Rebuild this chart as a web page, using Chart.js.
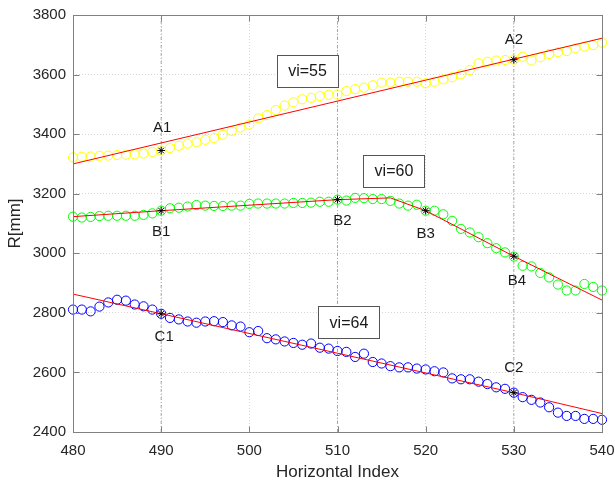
<!DOCTYPE html>
<html>
<head>
<meta charset="utf-8">
<script src="https://cdn.jsdelivr.net/npm/chart.js@4.4.0/dist/chart.umd.min.js"></script>
<style>
  html, body { margin: 0; background: #fff; }
  #wrap { width: 615px; height: 483px; }
</style>
</head>
<body>
<div id="wrap"><canvas id="grafico" width="615" height="483"></canvas></div>
<script>
// ---------- dados ----------
const indices = [];
for (let i = 480; i <= 540; i++) indices.push(i);

// vi=55
const serieA = [3322, 3324, 3325, 3327, 3328, 3330, 3331, 3332, 3335, 3340,
  3345, 3353, 3361, 3368, 3373, 3381, 3387, 3398, 3411, 3422,
  3432, 3453, 3464, 3481, 3496, 3507, 3517, 3522, 3528, 3532,
  3533, 3545, 3551, 3556, 3564, 3573, 3573, 3576, 3576, 3576,
  3571, 3576, 3584, 3591, 3601, 3615, 3638, 3643, 3647, 3649,
  3650, 3660, 3647, 3658, 3669, 3675, 3679, 3688, 3694, 3699, 3707];

// vi=60
const serieB = [3123, 3120, 3122, 3125, 3126, 3126, 3126, 3126, 3129, 3134,
  3143, 3151, 3153, 3157, 3162, 3160, 3159, 3159, 3160, 3160,
  3166, 3167, 3167, 3167, 3167, 3169, 3169, 3170, 3173, 3173,
  3180, 3177, 3186, 3185, 3182, 3182, 3176, 3167, 3160, 3163,
  3143, 3143, 3131, 3109, 3082, 3070, 3054, 3034, 3017, 3003,
  2989, 2958, 2956, 2934, 2919, 2895, 2875, 2875, 2897, 2887, 2875];

// vi=64
const serieC = [2811, 2811, 2805, 2821, 2835, 2844, 2841, 2828, 2822, 2811,
  2797, 2783, 2778, 2771, 2767, 2771, 2772, 2769, 2758, 2754,
  2735, 2739, 2715, 2711, 2704, 2699, 2693, 2697, 2683, 2680,
  2672, 2669, 2652, 2663, 2635, 2630, 2621, 2617, 2617, 2613,
  2610, 2604, 2600, 2580, 2577, 2577, 2569, 2561, 2550, 2545,
  2532, 2517, 2508, 2499, 2483, 2465, 2454, 2454, 2444, 2444, 2441];

// retas ajustadas
const ajusteAx = [480, 540];
const ajusteAy = [3300, 3722];
const ajusteBx = [480, 490, 510, 516, 520, 530, 540];
const ajusteBy = [3123, 3143, 3180, 3186, 3143, 2990, 2843];
const ajusteCx = [480, 490, 530, 540];
const ajusteCy = [2863, 2797, 2532, 2462];

// pontos marcados
const marcasNome = ["A1", "A2", "B1", "B2", "B3", "B4", "C1", "C2"];
const marcasX = [490, 530, 490, 510, 520, 530, 490, 530];
const marcasY = [3345, 3650, 3143, 3180, 3143, 2990, 2797, 2532];

// linhas verticais de referência
const guiasX = [490, 510, 530];

// caixas de texto
const caixasTexto = ["vi=55", "vi=60", "vi=64"];
const caixasX = [506.6, 516.4, 511.3];
const caixasY = [3613, 3277, 2768];

const ticksX = [480, 490, 500, 510, 520, 530, 540];
const ticksY = [2400, 2600, 2800, 3000, 3200, 3400, 3600, 3800];

// ---------- estilo ----------
const FONTE = '"Liberation Sans", Arial, Helvetica, sans-serif';
const COR_TEXTO = "#262626";
const COR_EIXO = "#808080";
// deslocamento (px) do rótulo em relação à marca
const rotuloDx = [1, 0, 0, 5, 0, 3, 3, 0];
const rotuloDy = [-23, -20, 21, 21, 23, 25, 23, -25];

const pares = (xs, ys) => xs.map((x, i) => ({ x, y: ys[i] }));

function serieCirculos(ys, cor) {
  return {
    data: pares(indices, ys),
    showLine: false,
    pointStyle: "circle",
    pointRadius: 4.6,
    pointBorderWidth: 1,
    pointBorderColor: cor,
    pointBackgroundColor: "rgba(0,0,0,0)",
    clip: false,
    order: 3
  };
}

function serieAjuste(xs, ys) {
  return {
    data: pares(xs, ys),
    showLine: true,
    borderColor: "#ff0000",
    borderWidth: 1,
    pointRadius: 0,
    tension: 0,
    order: 2
  };
}

const datasets = [];
guiasX.forEach(g => {
  datasets.push({
    data: [{ x: g, y: ticksY[0] }, { x: g, y: ticksY[ticksY.length - 1] }],
    showLine: true,
    borderColor: "#a8a8a8",
    borderWidth: 1,
    borderDash: [3, 2, 1, 2],
    pointRadius: 0,
    order: 4
  });
});
datasets.push(serieCirculos(serieA, "#ffff00"));
datasets.push(serieCirculos(serieB, "#00ff00"));
datasets.push(serieCirculos(serieC, "#0000ff"));
datasets.push(serieAjuste(ajusteAx, ajusteAy));
datasets.push(serieAjuste(ajusteBx, ajusteBy));
datasets.push(serieAjuste(ajusteCx, ajusteCy));
datasets.push({
  data: pares(marcasX, marcasY),
  showLine: false,
  pointStyle: "star",
  pointRadius: 3.8,
  pointBorderWidth: 1,
  pointBorderColor: "#000",
  pointBackgroundColor: "#000",
  clip: false,
  order: 1
});

// moldura com ticks para dentro + rótulos e caixas
const moldura = {
  id: "moldura",
  afterDatasetsDraw(chart) {
    const { ctx, chartArea: a, scales: { x, y } } = chart;
    ctx.save();

    // rótulos das marcas
    ctx.font = "15px " + FONTE;
    ctx.fillStyle = "#1a1a1a";
    ctx.textAlign = "center";
    ctx.textBaseline = "middle";
    marcasNome.forEach((nome, i) => {
      const px = x.getPixelForValue(marcasX[i]) + rotuloDx[i];
      const py = y.getPixelForValue(marcasY[i]) + rotuloDy[i];
      ctx.fillText(nome, px, py);
    });

    // caixas vi=..
    ctx.font = "16px " + FONTE;
    caixasTexto.forEach((t, i) => {
      const cx = x.getPixelForValue(caixasX[i]);
      const cy = y.getPixelForValue(caixasY[i]);
      const w = Math.round(ctx.measureText(t).width + 22);
      const h = 32;
      const bx = Math.round(cx - w / 2) + 0.5;
      const by = Math.round(cy - h / 2) + 0.5;
      ctx.fillStyle = "#fff";
      ctx.fillRect(bx, by, w, h);
      ctx.strokeStyle = "#555";
      ctx.lineWidth = 1;
      ctx.strokeRect(bx, by, w, h);
      ctx.fillStyle = "#1a1a1a";
      ctx.fillText(t, cx, cy + 1);
    });

    // moldura
    ctx.strokeStyle = COR_EIXO;
    ctx.lineWidth = 1;
    const L = Math.round(a.left) + 0.5, R = Math.round(a.right) + 0.5;
    const T = Math.round(a.top) + 0.5, B = Math.round(a.bottom) + 0.5;
    ctx.strokeRect(L, T, R - L, B - T);

    const tam = 6;
    ctx.beginPath();
    ticksX.forEach(v => {
      const px = Math.round(x.getPixelForValue(v)) + 0.5;
      ctx.moveTo(px, B); ctx.lineTo(px, B - tam);
      ctx.moveTo(px, T); ctx.lineTo(px, T + tam);
    });
    ticksY.forEach(v => {
      const py = Math.round(y.getPixelForValue(v)) + 0.5;
      ctx.moveTo(L, py); ctx.lineTo(L + tam, py);
      ctx.moveTo(R, py); ctx.lineTo(R - tam, py);
    });
    ctx.stroke();
    ctx.restore();
  }
};

new Chart(document.getElementById("grafico"), {
  type: "scatter",
  data: { datasets },
  options: {
    responsive: false,
    animation: false,
    events: [],
    layout: { padding: { left: 0, top: 15, right: 13, bottom: 0 } },
    plugins: { legend: { display: false }, tooltip: { enabled: false } },
    scales: {
      x: {
        type: "linear",
        min: 480, max: 540,
        afterBuildTicks: s => { s.ticks = ticksX.map(v => ({ value: v })); },
        afterFit: s => { s.height = 51; s.paddingLeft = 0; s.paddingRight = 0; },
        ticks: {
          font: { family: FONTE, size: 15 }, color: COR_TEXTO,
          padding: 10, maxRotation: 0, autoSkip: false,
          callback: v => String(v)
        },
        grid: { color: "#d6d6d6", drawTicks: false },
        border: { display: false, dash: [1, 2] },
        title: {
          display: true, text: "Horizontal Index", color: COR_TEXTO,
          font: { family: FONTE, size: 17 }, padding: { top: 0, bottom: 0 }
        }
      },
      y: {
        type: "linear",
        min: 2400, max: 3800,
        afterBuildTicks: s => { s.ticks = ticksY.map(v => ({ value: v })); },
        afterFit: s => { s.width = 73; s.paddingTop = 0; s.paddingBottom = 0; },
        ticks: {
          font: { family: FONTE, size: 15 }, color: COR_TEXTO,
          padding: 7, autoSkip: false,
          callback: v => String(v)
        },
        grid: { color: "#d6d6d6", drawTicks: false },
        border: { display: false, dash: [1, 2] },
        title: {
          display: true, text: "R[mm]", color: COR_TEXTO,
          font: { family: FONTE, size: 17 }, padding: { top: 5, bottom: 0 }
        }
      }
    }
  },
  plugins: [moldura]
});
</script>
</body>
</html>
